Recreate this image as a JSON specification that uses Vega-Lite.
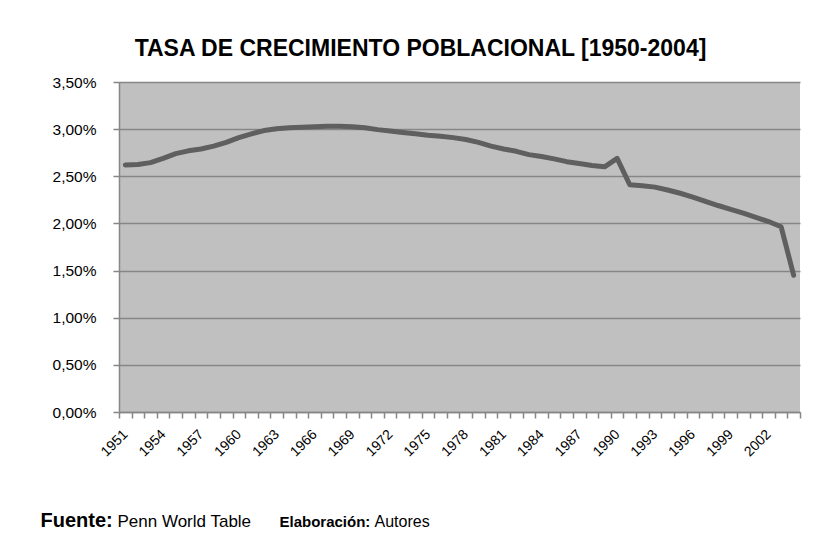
{
  "$schema": "https://vega.github.io/schema/vega-lite/v6.json",
  "autosize": {"type": "none"},
  "width": 681,
  "height": 330,
  "padding": {"left": 119, "top": 82, "right": 15, "bottom": 132},
  "background": "white",
  "title": {
    "text": "TASA DE CRECIMIENTO POBLACIONAL [1950-2004]",
    "font": "Liberation Sans",
    "fontSize": 23,
    "fontWeight": "bold",
    "color": "black",
    "anchor": "middle",
    "frame": "group",
    "dx": -39,
    "offset": 14
  },
  "config": {
    "view": {"fill": "#C0C0C0", "stroke": null},
    "font": "Liberation Sans"
  },
  "data": {
    "values": [
      {"year": 1951, "rate": 0.0262},
      {"year": 1952, "rate": 0.02625},
      {"year": 1953, "rate": 0.02645},
      {"year": 1954, "rate": 0.0269},
      {"year": 1955, "rate": 0.0274},
      {"year": 1956, "rate": 0.0277},
      {"year": 1957, "rate": 0.0279},
      {"year": 1958, "rate": 0.0282},
      {"year": 1959, "rate": 0.0286},
      {"year": 1960, "rate": 0.0291},
      {"year": 1961, "rate": 0.0295},
      {"year": 1962, "rate": 0.02985},
      {"year": 1963, "rate": 0.03005},
      {"year": 1964, "rate": 0.03015},
      {"year": 1965, "rate": 0.0302},
      {"year": 1966, "rate": 0.03025},
      {"year": 1967, "rate": 0.0303},
      {"year": 1968, "rate": 0.0303},
      {"year": 1969, "rate": 0.03025},
      {"year": 1970, "rate": 0.03015},
      {"year": 1971, "rate": 0.02995},
      {"year": 1972, "rate": 0.0298},
      {"year": 1973, "rate": 0.02965},
      {"year": 1974, "rate": 0.0295},
      {"year": 1975, "rate": 0.02935},
      {"year": 1976, "rate": 0.02925},
      {"year": 1977, "rate": 0.0291},
      {"year": 1978, "rate": 0.0289},
      {"year": 1979, "rate": 0.0286},
      {"year": 1980, "rate": 0.0282},
      {"year": 1981, "rate": 0.0279},
      {"year": 1982, "rate": 0.02765},
      {"year": 1983, "rate": 0.0273},
      {"year": 1984, "rate": 0.0271},
      {"year": 1985, "rate": 0.02685},
      {"year": 1986, "rate": 0.02655},
      {"year": 1987, "rate": 0.02635},
      {"year": 1988, "rate": 0.02615},
      {"year": 1989, "rate": 0.026},
      {"year": 1990, "rate": 0.0269},
      {"year": 1991, "rate": 0.0241},
      {"year": 1992, "rate": 0.024},
      {"year": 1993, "rate": 0.02385},
      {"year": 1994, "rate": 0.02355},
      {"year": 1995, "rate": 0.0232},
      {"year": 1996, "rate": 0.0228},
      {"year": 1997, "rate": 0.02235},
      {"year": 1998, "rate": 0.0219},
      {"year": 1999, "rate": 0.0215},
      {"year": 2000, "rate": 0.0211},
      {"year": 2001, "rate": 0.02065},
      {"year": 2002, "rate": 0.0202},
      {"year": 2003, "rate": 0.01965},
      {"year": 2004, "rate": 0.0145}
    ]
  },
  "encoding": {
    "y": {
      "field": "rate",
      "type": "quantitative",
      "scale": {"domain": [0, 0.035], "nice": false, "zero": true},
      "axis": {
        "title": null,
        "values": [0, 0.005, 0.01, 0.015, 0.02, 0.025, 0.03, 0.035],
        "labelExpr": "replace(format(datum.value, '.2%'), '.', ',')",
        "labelFont": "Liberation Sans",
        "labelFontSize": 15.5,
        "labelColor": "black",
        "labelPadding": 17,
        "tickSize": 6,
        "tickColor": "#868686",
        "tickWidth": 1.5,
        "domainColor": "#868686",
        "domainWidth": 1.5,
        "grid": true,
        "gridColor": "#868686",
        "gridWidth": 1.5
      }
    }
  },
  "layer": [
    {
      "mark": {"type": "line", "color": "#5f5f5f", "strokeWidth": 5, "strokeCap": "round", "strokeJoin": "round"},
      "encoding": {
        "x": {
          "field": "year",
          "type": "ordinal",
          "sort": "ascending",
          "scale": {"type": "band", "paddingInner": 0, "paddingOuter": 0},
          "axis": {
            "orient": "bottom",
            "title": "Fuente:",
            "titleFont": "Liberation Sans",
            "titleFontSize": 20,
            "titleFontWeight": "bold",
            "titleColor": "black",
            "titleAnchor": "start",
            "titleAlign": "left",
            "titleBaseline": "alphabetic",
            "titleX": -79,
            "titleY": 114,
            "labelExpr": "(datum.value - 1951) % 3 === 0 ? datum.label : ''",
            "labelOverlap": false,
            "labelAngle": -45,
            "labelAlign": "right",
            "labelBaseline": "middle",
            "labelFont": "Liberation Sans",
            "labelFontSize": 14,
            "labelColor": "black",
            "labelPadding": 14,
            "labelDx": 22,
            "labelDy": 6,
            "tickBand": "extent",
            "tickSize": 6,
            "tickColor": "#868686",
            "tickWidth": 1.5,
            "domainColor": "#868686",
            "domainWidth": 1.5,
            "grid": false
          }
        }
      }
    },
    {
      "mark": {"type": "line", "strokeOpacity": 0},
      "encoding": {
        "x": {
          "field": "year",
          "type": "ordinal",
          "sort": "ascending",
          "scale": {"type": "band", "paddingInner": 0, "paddingOuter": 0},
          "axis": {
            "orient": "bottom",
            "labels": false, "ticks": false, "domain": false, "grid": false,
            "title": "Penn World Table",
            "titleFont": "Liberation Sans",
            "titleFontSize": 17,
            "titleFontWeight": "normal",
            "titleColor": "black",
            "titleAnchor": "start",
            "titleAlign": "left",
            "titleBaseline": "alphabetic",
            "titleX": -2,
            "titleY": 114
          }
        }
      }
    },
    {
      "mark": {"type": "line", "strokeOpacity": 0},
      "encoding": {
        "x": {
          "field": "year",
          "type": "ordinal",
          "sort": "ascending",
          "scale": {"type": "band", "paddingInner": 0, "paddingOuter": 0},
          "axis": {
            "orient": "bottom",
            "labels": false, "ticks": false, "domain": false, "grid": false,
            "title": "Elaboración:",
            "titleFont": "Liberation Sans",
            "titleFontSize": 15,
            "titleFontWeight": "bold",
            "titleColor": "black",
            "titleAnchor": "start",
            "titleAlign": "left",
            "titleBaseline": "alphabetic",
            "titleX": 160,
            "titleY": 114
          }
        }
      }
    },
    {
      "mark": {"type": "line", "strokeOpacity": 0},
      "encoding": {
        "x": {
          "field": "year",
          "type": "ordinal",
          "sort": "ascending",
          "scale": {"type": "band", "paddingInner": 0, "paddingOuter": 0},
          "axis": {
            "orient": "bottom",
            "labels": false, "ticks": false, "domain": false, "grid": false,
            "title": "Autores",
            "titleFont": "Liberation Sans",
            "titleFontSize": 16,
            "titleFontWeight": "normal",
            "titleColor": "black",
            "titleAnchor": "start",
            "titleAlign": "left",
            "titleBaseline": "alphabetic",
            "titleX": 255,
            "titleY": 114
          }
        }
      }
    }
  ],
  "resolve": {"axis": {"x": "independent"}}
}
